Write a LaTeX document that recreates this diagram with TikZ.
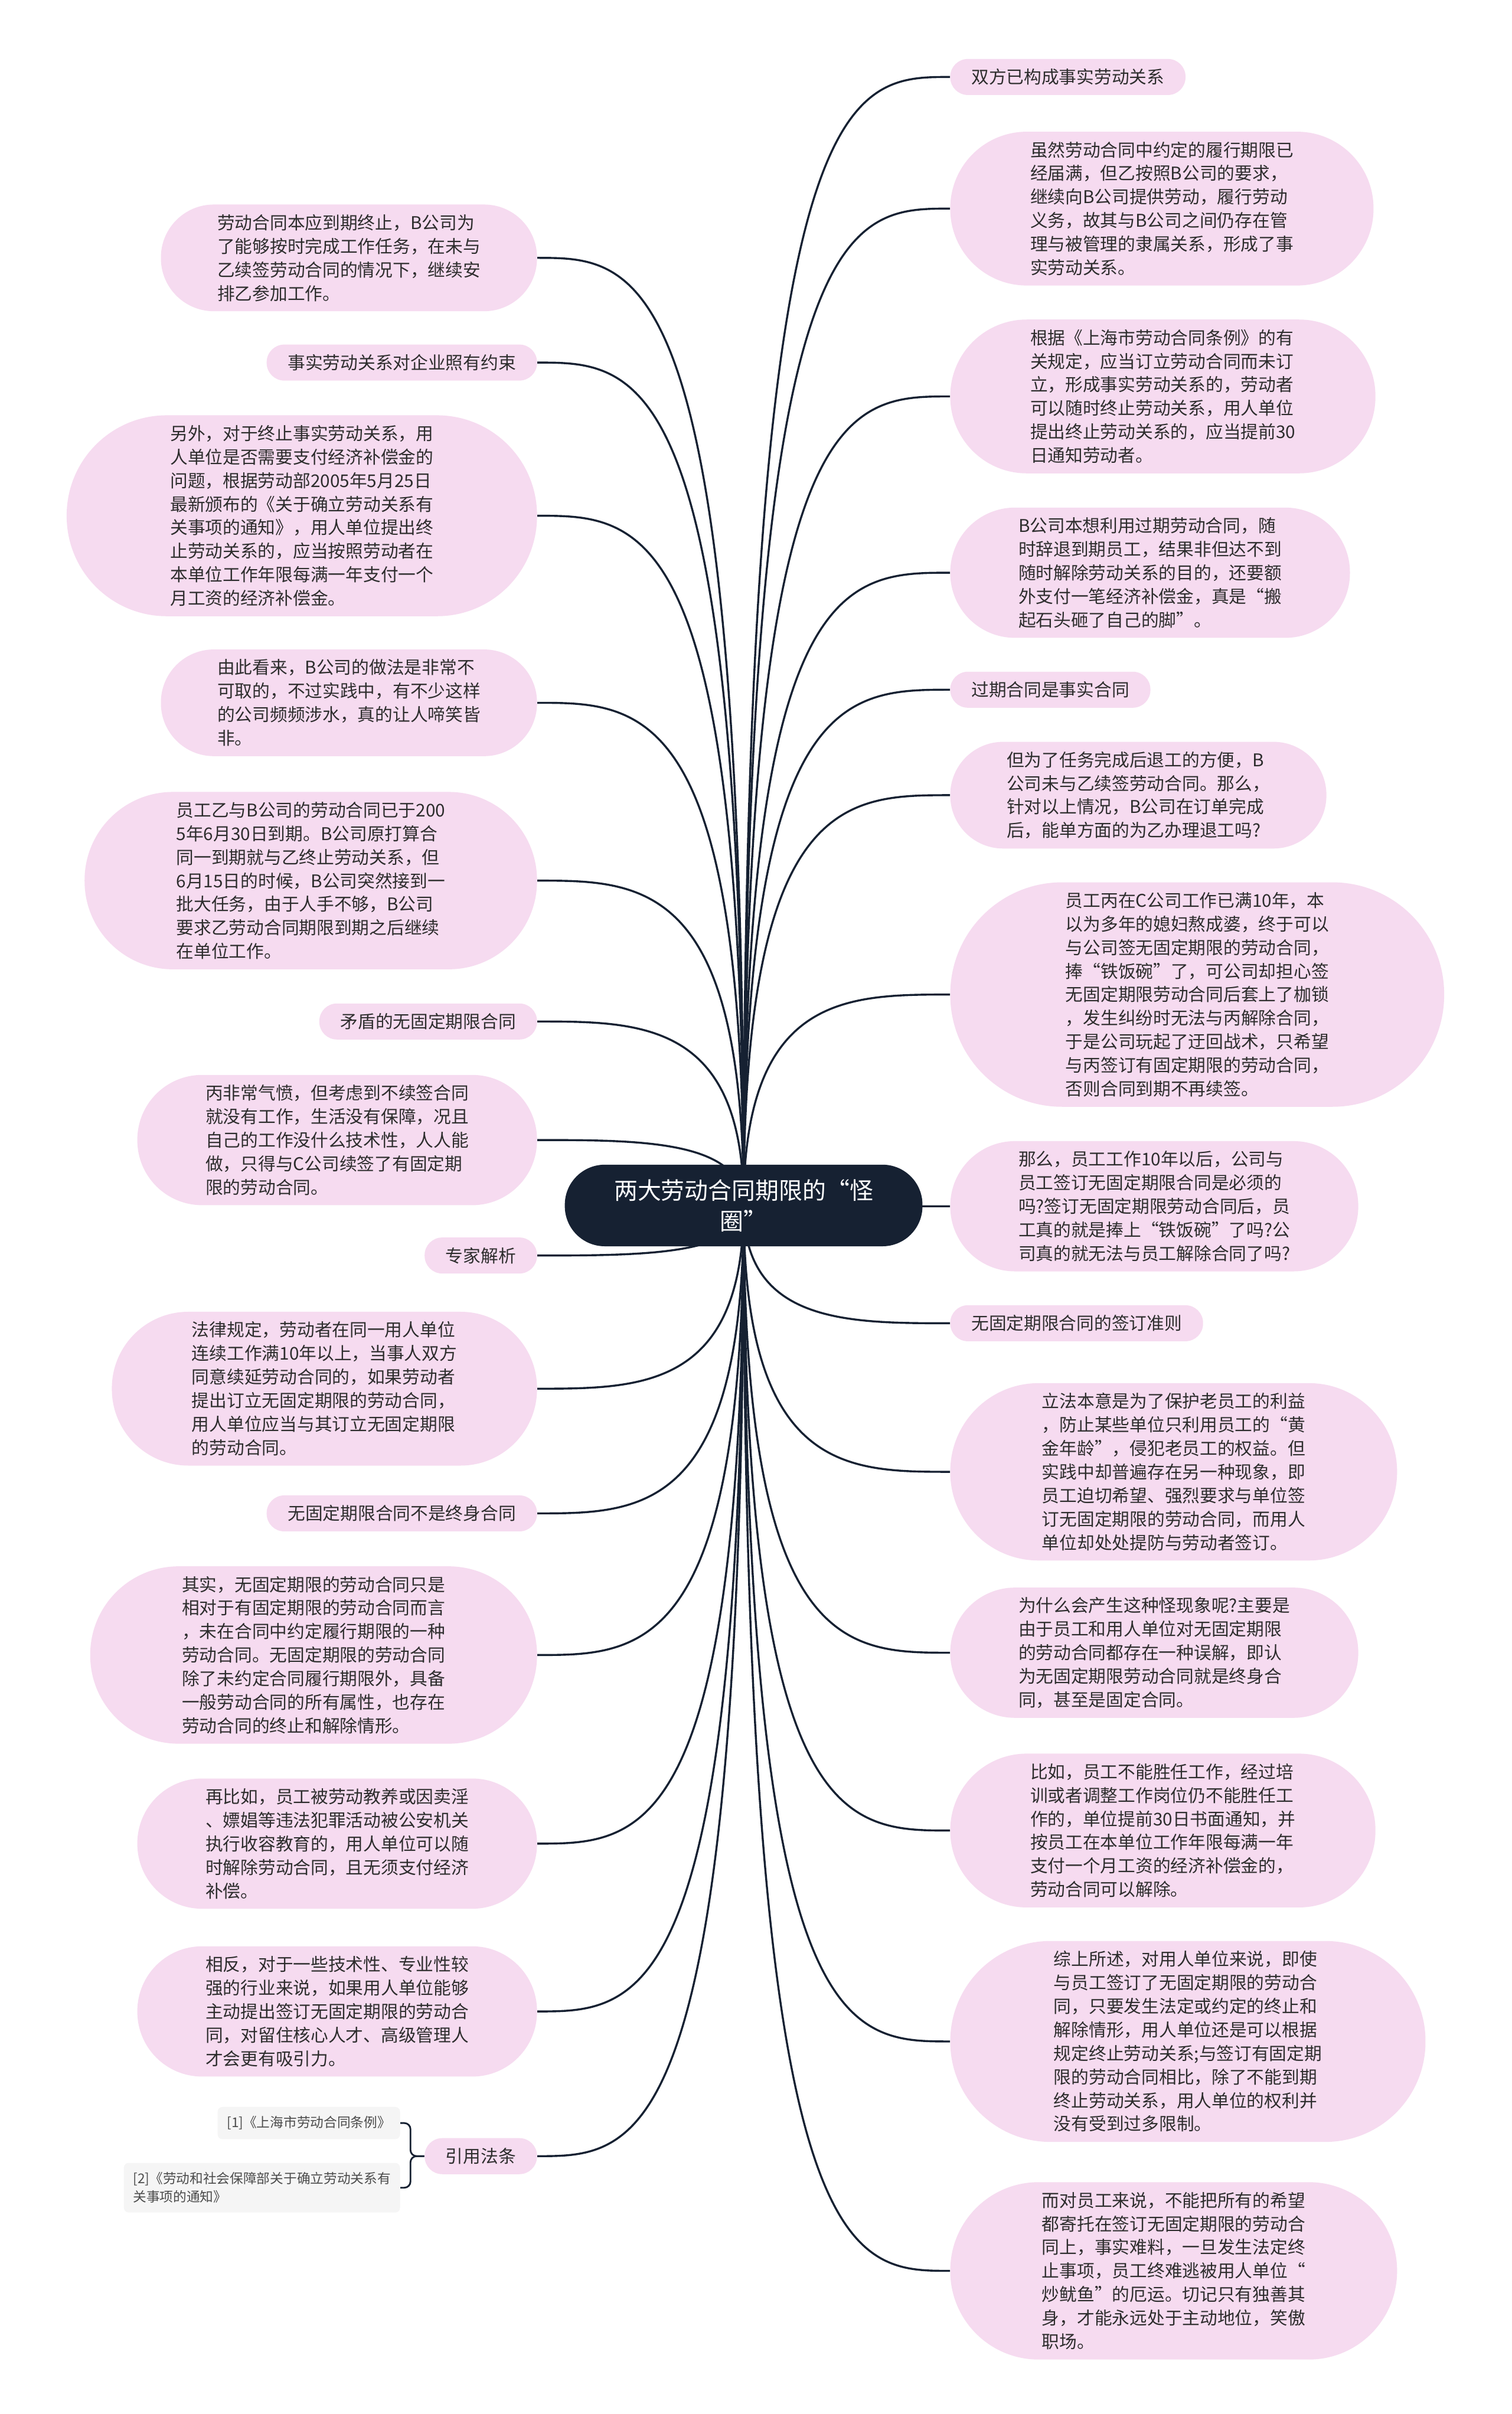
\documentclass[tikz,border=0pt]{standalone}
\usepackage{fontspec}
\setmainfont{Noto Sans CJK SC}
\usetikzlibrary{calc}
\definecolor{pillfill}{RGB}{246,219,240}
\definecolor{navy}{RGB}{22,33,50}
\definecolor{txtcol}{RGB}{45,45,45}
\definecolor{reffill}{RGB}{245,245,245}
\definecolor{reftxt}{RGB}{75,75,75}
\pgfdeclarelayer{bg}
\pgfsetlayers{bg,main}
\tikzset{
  pill/.style={rectangle, fill=pillfill, text=txtcol,
    minimum height={(15.3*#1+8.1)*1pt}, rounded corners={(7.65*#1+3.8)*1pt},
    inner xsep={(7.65*#1+6.05)*1pt}, inner ysep=0pt,
    align=left, font=\fontsize{11.4}{15.3}\selectfont},
  rpill/.style={pill=#1, anchor=west},
  lpill/.style={pill=#1, anchor=east},
  hubnode/.style={rectangle, fill=navy, text=white, minimum height=53pt, rounded corners=26pt,
    inner xsep=32pt, inner ysep=0pt,
    align=center, font=\fontsize{15.3}{20}\selectfont},
  refbox/.style={rectangle, rounded corners=3pt, fill=reffill, text=reftxt, anchor=east,
    font=\fontsize{8.7}{12}\selectfont, align=left, inner xsep=6pt, inner ysep=6pt},
  edge/.style={draw=navy, line width=1.3pt},
}
\newcommand\rlink[1]{\draw[edge] (hub.center) .. controls (hub.center |- #1.west) and ($(hub.center |- #1.west)!0.5!(#1.west)$) .. (#1.west);}
\newcommand\llink[1]{\draw[edge] (hub.center) .. controls (hub.center |- #1.east) and ($(hub.center |- #1.east)!0.5!(#1.east)$) .. (#1.east);}
\begin{document}
\begin{tikzpicture}[x=1pt,y=-1pt]
\useasboundingbox (0,0) rectangle (982,1568);

\node[hubnode] (hub) at (483,783) {两大劳动合同期限的“怪\\圈”};

% right column
\node[rpill=1] (R1) at (617,50) {双方已构成事实劳动关系};
\node[rpill=6] (R2) at (617,135.5) {虽然劳动合同中约定的履行期限已\\经届满，但乙按照B公司的要求，\\继续向B公司提供劳动，履行劳动\\义务，故其与B公司之间仍存在管\\理与被管理的隶属关系，形成了事\\实劳动关系。};
\node[rpill=6] (R3) at (617,257.5) {根据《上海市劳动合同条例》的有\\关规定，应当订立劳动合同而未订\\立，形成事实劳动关系的，劳动者\\可以随时终止劳动关系，用人单位\\提出终止劳动关系的，应当提前30\\日通知劳动者。};
\node[rpill=5] (R4) at (617,372) {B公司本想利用过期劳动合同，随\\时辞退到期员工，结果非但达不到\\随时解除劳动关系的目的，还要额\\外支付一笔经济补偿金，真是“搬\\起石头砸了自己的脚”。};
\node[rpill=1] (R5) at (617,448) {过期合同是事实合同};
\node[rpill=4] (R6) at (617,516.5) {但为了任务完成后退工的方便，B\\公司未与乙续签劳动合同。那么，\\针对以上情况，B公司在订单完成\\后，能单方面的为乙办理退工吗?};
\node[rpill=9] (R7) at (617,646) {员工丙在C公司工作已满10年，本\\以为多年的媳妇熬成婆，终于可以\\与公司签无固定期限的劳动合同，\\捧“铁饭碗”了，可公司却担心签\\无固定期限劳动合同后套上了枷锁\\，发生纠纷时无法与丙解除合同，\\于是公司玩起了迂回战术，只希望\\与丙签订有固定期限的劳动合同，\\否则合同到期不再续签。};
\node[rpill=5] (R8) at (617,783.5) {那么，员工工作10年以后，公司与\\员工签订无固定期限合同是必须的\\吗?签订无固定期限劳动合同后，员\\工真的就是捧上“铁饭碗”了吗?公\\司真的就无法与员工解除合同了吗?};
\node[rpill=1] (R9) at (617,859.5) {无固定期限合同的签订准则};
\node[rpill=7] (R10) at (617,956) {立法本意是为了保护老员工的利益\\，防止某些单位只利用员工的“黄\\金年龄”，侵犯老员工的权益。但\\实践中却普遍存在另一种现象，即\\员工迫切希望、强烈要求与单位签\\订无固定期限的劳动合同，而用人\\单位却处处提防与劳动者签订。};
\node[rpill=5] (R11) at (617,1073.5) {为什么会产生这种怪现象呢?主要是\\由于员工和用人单位对无固定期限\\的劳动合同都存在一种误解，即认\\为无固定期限劳动合同就是终身合\\同，甚至是固定合同。};
\node[rpill=6] (R12) at (617,1189) {比如，员工不能胜任工作，经过培\\训或者调整工作岗位仍不能胜任工\\作的，单位提前30日书面通知，并\\按员工在本单位工作年限每满一年\\支付一个月工资的经济补偿金的，\\劳动合同可以解除。};
\node[rpill=8] (R13) at (617,1326) {综上所述，对用人单位来说，即使\\与员工签订了无固定期限的劳动合\\同，只要发生法定或约定的终止和\\解除情形，用人单位还是可以根据\\规定终止劳动关系;与签订有固定期\\限的劳动合同相比，除了不能到期\\终止劳动关系，用人单位的权利并\\没有受到过多限制。};
\node[rpill=7] (R14) at (617,1475) {而对员工来说，不能把所有的希望\\都寄托在签订无固定期限的劳动合\\同上，事实难料，一旦发生法定终\\止事项，员工终难逃被用人单位“\\炒鱿鱼”的厄运。切记只有独善其\\身，才能永远处于主动地位，笑傲\\职场。};

% left column
\node[lpill=4] (L1) at (349,167.5) {劳动合同本应到期终止，B公司为\\了能够按时完成工作任务，在未与\\乙续签劳动合同的情况下，继续安\\排乙参加工作。};
\node[lpill=1] (L2) at (349,235.5) {事实劳动关系对企业照有约束};
\node[lpill=8] (L3) at (349,335) {另外，对于终止事实劳动关系，用\\人单位是否需要支付经济补偿金的\\问题，根据劳动部2005年5月25日\\最新颁布的《关于确立劳动关系有\\关事项的通知》，用人单位提出终\\止劳动关系的，应当按照劳动者在\\本单位工作年限每满一年支付一个\\月工资的经济补偿金。};
\node[lpill=4] (L4) at (349,456.5) {由此看来，B公司的做法是非常不\\可取的，不过实践中，有不少这样\\的公司频频涉水，真的让人啼笑皆\\非。};
\node[lpill=7] (L5) at (349,572) {员工乙与B公司的劳动合同已于200\\5年6月30日到期。B公司原打算合\\同一到期就与乙终止劳动关系，但\\6月15日的时候，B公司突然接到一\\批大任务，由于人手不够，B公司\\要求乙劳动合同期限到期之后继续\\在单位工作。};
\node[lpill=1] (L6) at (349,663.5) {矛盾的无固定期限合同};
\node[lpill=5] (L7) at (349,740.5) {丙非常气愤，但考虑到不续签合同\\就没有工作，生活没有保障，况且\\自己的工作没什么技术性，人人能\\做，只得与C公司续签了有固定期\\限的劳动合同。};
\node[lpill=1] (L8) at (349,815.5) {专家解析};
\node[lpill=6] (L9) at (349,902) {法律规定，劳动者在同一用人单位\\连续工作满10年以上，当事人双方\\同意续延劳动合同的，如果劳动者\\提出订立无固定期限的劳动合同，\\用人单位应当与其订立无固定期限\\的劳动合同。};
\node[lpill=1] (L10) at (349,983) {无固定期限合同不是终身合同};
\node[lpill=7] (L11) at (349,1075) {其实，无固定期限的劳动合同只是\\相对于有固定期限的劳动合同而言\\，未在合同中约定履行期限的一种\\劳动合同。无固定期限的劳动合同\\除了未约定合同履行期限外，具备\\一般劳动合同的所有属性，也存在\\劳动合同的终止和解除情形。};
\node[lpill=5] (L12) at (349,1197.5) {再比如，员工被劳动教养或因卖淫\\、嫖娼等违法犯罪活动被公安机关\\执行收容教育的，用人单位可以随\\时解除劳动合同，且无须支付经济\\补偿。};
\node[lpill=5] (L13) at (349,1306.5) {相反，对于一些技术性、专业性较\\强的行业来说，如果用人单位能够\\主动提出签订无固定期限的劳动合\\同，对留住核心人才、高级管理人\\才会更有吸引力。};
\node[lpill=1] (L14) at (349,1400.5) {引用法条};

\node[refbox] (ref1) at (260,1379) {[1]《上海市劳动合同条例》};
\node[refbox] (ref2) at (260,1421) {[2]《劳动和社会保障部关于确立劳动关系有\\关事项的通知》};

\begin{pgfonlayer}{bg}
\fill[white] (0,0) rectangle (982,1568);
\foreach \n in {R1,R2,R3,R4,R5,R6,R7,R8,R9,R10,R11,R12,R13,R14}{\rlink{\n}}
\foreach \n in {L1,L2,L3,L4,L5,L6,L7,L8,L9,L10,L11,L12,L13,L14}{\llink{\n}}
\draw[edge, line width=1.1pt, rounded corners=4pt] (L14.west) -- ++(-9,0) |- (ref1.east);
\draw[edge, line width=1.1pt, rounded corners=4pt] (L14.west) -- ++(-9,0) |- (ref2.east);
\end{pgfonlayer}
\end{tikzpicture}
\end{document}
